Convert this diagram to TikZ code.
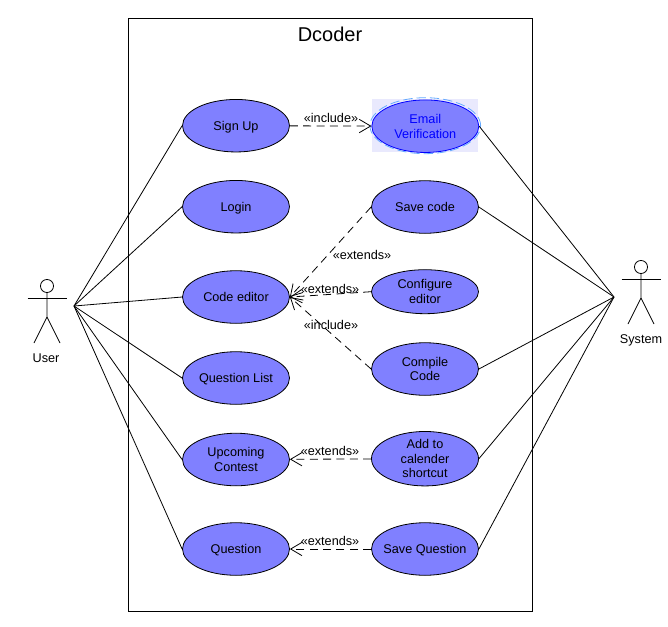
\documentclass[tikz,border=0pt]{standalone}
\usepackage{fontspec}
\setmainfont{Liberation Sans}
\usetikzlibrary{arrows.meta,shapes.geometric}
\definecolor{usecasefill}{HTML}{8080FF}
\definecolor{selectfill}{HTML}{E9E9FD}
\definecolor{selectdash}{HTML}{66AAFF}
\begin{document}
\begin{tikzpicture}[x=0.75pt,y=-0.75pt,line width=0.6pt,>={Straight Barb[length=8.5pt,width=10pt]},
    every node/.style={font=\fontsize{9.5}{11}\selectfont,align=center},
    usecase/.style={ellipse,draw,fill=usecasefill,minimum width=80.25pt,minimum height=39.4pt,inner sep=0pt,text depth=0pt},
    stereo/.style={dashed,dash pattern=on 6pt off 4pt,->},
    actor/.pic={
      \draw (0,0) circle (4.9pt);
      \draw (-19.5,12) -- (19.5,12);
      \draw (0,6.5) -- (0,31) -- (-13,57);
      \draw (0,31) -- (13,57);
    }]
  \useasboundingbox (0,0) rectangle (668,626);
  \node[draw,minimum width=303pt,minimum height=444.75pt,inner sep=0pt] (dcoderbox) at (330,314.5) {};
  \node[font=\fontsize{15}{18}\selectfont] (dcodertitle) at (330,34) {Dcoder};
  % left column
  \node[usecase] (signup) at (236,125.7) {Sign Up};
  \node[usecase] (login) at (236,206.7) {Login};
  \node[usecase] (codeeditor) at (236,297) {Code editor};
  \node[usecase] (questionlist) at (236,378) {Question List};
  \node[usecase] (upcoming) at (236,459.5) {Upcoming\\Contest};
  \node[usecase] (question) at (236,549) {Question};
  % right column
  \node[fill=selectfill,minimum width=80pt,minimum height=39.5pt,inner sep=0pt] (emailback) at (425,125.7) {};
  \node[ellipse,draw=selectdash,dashed,dash pattern=on 7pt off 3pt,minimum width=83pt,minimum height=42pt,inner sep=0pt] (emaildash) at (425.3,125.7) {};
  \node[usecase,draw=blue,text=blue] (email) at (425.3,126.2) {Email\\Verification};
  \node[usecase] (savecode) at (425,207) {Save code};
  \node[usecase,minimum height=33pt] (configure) at (425,291.7) {Configure\\editor};
  \node[usecase] (compile) at (425,369) {Compile\\Code};
  \node[usecase] (calender) at (425,458.7) {Add to\\calender\\shortcut};
  \node[usecase,inner xsep=-4pt] (savequestion) at (425,549) {Save Question};
  % actors
  \pic at (47,286) {actor};
  \node (userlabel) at (46,358.5) {User};
  \coordinate (userhub) at (74,306);
  \pic at (641,267) {actor};
  \node (systemlabel) at (641,340.5) {System};
  \coordinate (systemhub) at (614,297);
  \foreach \n in {signup,login,codeeditor,questionlist,upcoming,question}
    \draw (userhub) -- (\n.west);
  \foreach \n in {email,savecode,compile,calender,savequestion}
    \draw (systemhub) -- (\n.east);
  % stereotypes
  \draw[stereo] (signup) -- (email);
  \draw[stereo] (savecode.west) -- (codeeditor.east);
  \draw[stereo] (configure.west) -- (codeeditor.east);
  \draw[stereo] (compile.west) -- (codeeditor.east);
  \draw[stereo] (calender) -- (upcoming);
  \draw[stereo] (savequestion) -- (question);
  \node (includeemail) at (331,118) {«include»};
  \node (extendssave) at (362,255) {«extends»};
  \node (extendsconfigure) at (330,289) {«extends»};
  \node (includecompile) at (331,325) {«include»};
  \node (extendscalender) at (330,451) {«extends»};
  \node (extendsquestion) at (330,541) {«extends»};
\end{tikzpicture}
\end{document}
